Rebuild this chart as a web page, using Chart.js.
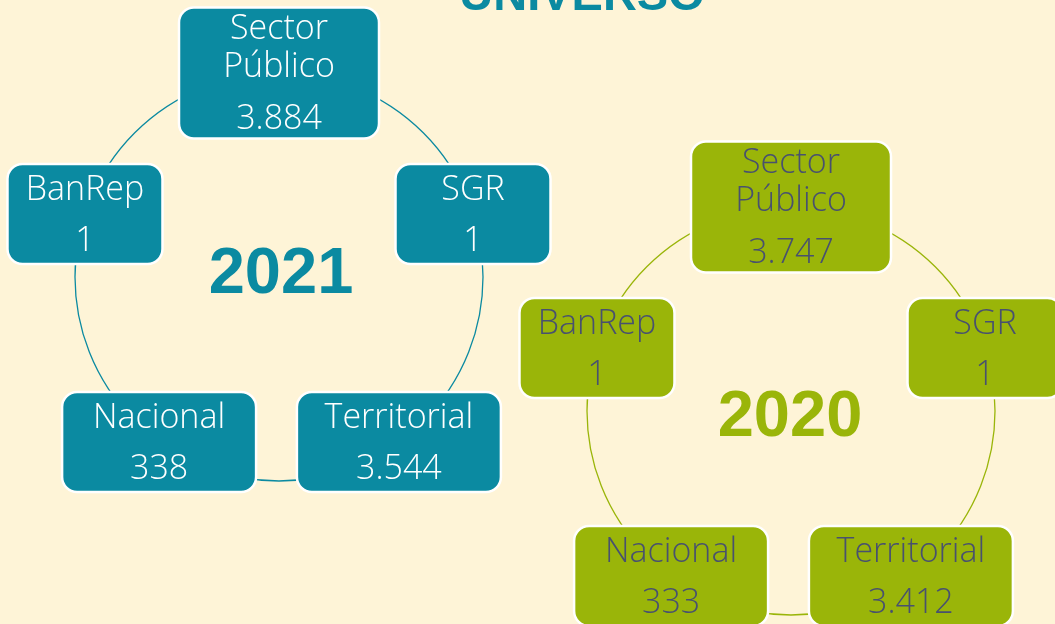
<!DOCTYPE html>
<html>
<head>
<meta charset="utf-8">
<script src="https://cdn.jsdelivr.net/npm/chart.js@4"></script>
<style>
html,body{margin:0;padding:0;background:#FEF4D7;}
#wrap{width:1055px;height:624px;position:relative;}
</style>
</head>
<body>
<div id="wrap"><canvas id="c"></canvas></div>
<script>
// ---- data ----
const title = 'UNIVERSO';
const categories = [['Sector', 'Público'], ['SGR'], ['Territorial'], ['Nacional'], ['BanRep']];
const years = ['2021', '2020'];
const values2021 = [3884, 1, 3544, 338, 1];
const values2020 = [3747, 1, 3412, 333, 1];

// ---- style / layout ----
const BG = '#FEF4D7';
const TEAL = '#0B8AA1';
const OLIVE = '#9AB509';
const rings = [
  {cx: 279, cy: 277, r: 204, fill: TEAL, text: '#FFFFFF', yearX: 281, yearY: 293},
  {cx: 791, cy: 411, r: 204, fill: OLIVE, text: '#48516F', yearX: 790, yearY: 436}
];
const boxW = [200, 155, 204, 194, 155];
const boxH = [131, 100, 100, 100, 100];
const textOffsets = {tall: [31, 69, 121], small: [36, 87]};
const FONT = '"Open Sans", "Lato", sans-serif';

function fmt(v) { return String(v).replace(/\B(?=(\d{3})+(?!\d))/g, '.'); }

function ringPoints(vals, ring) {
  return vals.map((v, i) => {
    const a = i * 2 * Math.PI / categories.length;
    return {x: ring.cx + ring.r * Math.sin(a), y: ring.cy - ring.r * Math.cos(a), v: v};
  });
}

function roundRect(ctx, x, y, w, h, r) {
  ctx.beginPath();
  ctx.moveTo(x + r, y);
  ctx.lineTo(x + w - r, y);
  ctx.arcTo(x + w, y, x + w, y + r, r);
  ctx.lineTo(x + w, y + h - r);
  ctx.arcTo(x + w, y + h, x + w - r, y + h, r);
  ctx.lineTo(x + r, y + h);
  ctx.arcTo(x, y + h, x, y + h - r, r);
  ctx.lineTo(x, y + r);
  ctx.arcTo(x, y, x + r, y, r);
  ctx.closePath();
}

const diagramPlugin = {
  id: 'diagram',
  beforeDraw(chart) {
    const ctx = chart.ctx;
    ctx.save();
    ctx.fillStyle = BG;
    ctx.fillRect(0, 0, chart.width, chart.height);
    ctx.restore();
  },
  beforeDatasetsDraw(chart) {
    const ctx = chart.ctx;
    const xs = chart.scales.x, ys = chart.scales.y;
    ctx.save();
    rings.forEach((ring, di) => {
      const px = xs.getPixelForValue(ring.cx), py = ys.getPixelForValue(ring.cy);
      const pr = xs.getPixelForValue(ring.cx + ring.r) - px;
      ctx.beginPath();
      ctx.arc(px, py, pr, 0, Math.PI * 2);
      ctx.strokeStyle = ring.fill;
      ctx.lineWidth = 1.3;
      ctx.stroke();
      // year label
      ctx.fillStyle = ring.fill;
      ctx.font = 'bold 65px "Liberation Sans", Arial, sans-serif';
      ctx.textAlign = 'center';
      ctx.textBaseline = 'alphabetic';
      ctx.fillText(years[di], xs.getPixelForValue(ring.yearX), ys.getPixelForValue(ring.yearY));
    });
    // title (partly cut off at the top, as in the reference)
    ctx.fillStyle = TEAL;
    ctx.font = 'bold 47px "Liberation Sans", Arial, sans-serif';
    ctx.textAlign = 'center';
    ctx.fillText(title, xs.getPixelForValue(582), ys.getPixelForValue(10));
    ctx.restore();
  },
  afterDatasetsDraw(chart) {
    const ctx = chart.ctx;
    ctx.save();
    chart.data.datasets.forEach((ds, di) => {
      const ring = rings[di];
      const meta = chart.getDatasetMeta(di);
      meta.data.forEach((el, i) => {
        const w = boxW[i], h = boxH[i];
        const x = el.x - w / 2, y = el.y - h / 2;
        roundRect(ctx, x, y, w, h, 15);
        ctx.fillStyle = ring.fill;
        ctx.fill();
        ctx.strokeStyle = '#FFFFFF';
        ctx.lineWidth = 2.5;
        ctx.stroke();
        const lines = categories[i].concat([fmt(ds.data[i].v)]);
        const offs = lines.length === 3 ? textOffsets.tall : textOffsets.small;
        ctx.fillStyle = ring.text;
        ctx.font = '300 34px ' + FONT;
        ctx.textAlign = 'center';
        ctx.textBaseline = 'alphabetic';
        lines.forEach((t, li) => ctx.fillText(t, el.x, y + offs[li]));
      });
    });
    ctx.restore();
  }
};

new Chart(document.getElementById('c'), {
  type: 'scatter',
  data: {
    datasets: [
      {label: years[0], data: ringPoints(values2021, rings[0]), pointRadius: 0, pointHoverRadius: 0},
      {label: years[1], data: ringPoints(values2020, rings[1]), pointRadius: 0, pointHoverRadius: 0}
    ]
  },
  options: {
    responsive: true,
    maintainAspectRatio: false,
    animation: false,
    layout: {padding: 0},
    plugins: {legend: {display: false}, tooltip: {enabled: false}, title: {display: false}},
    scales: {
      x: {type: 'linear', display: false, min: 0, max: 1055},
      y: {type: 'linear', display: false, min: 0, max: 624, reverse: true}
    }
  },
  plugins: [diagramPlugin]
});
</script>
</body>
</html>
